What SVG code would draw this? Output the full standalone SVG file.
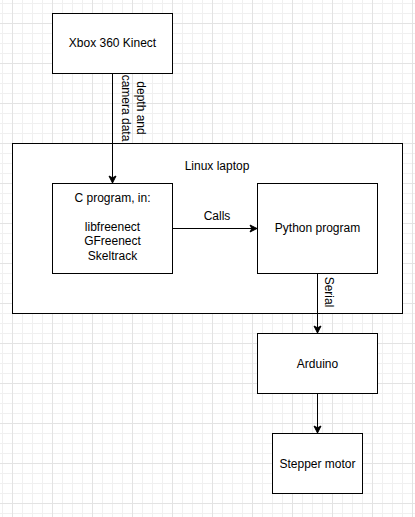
<svg xmlns="http://www.w3.org/2000/svg" width="415" height="517" viewBox="0 0 415 517">
<defs>
<pattern id="grid" x="12" y="23" width="40" height="40" patternUnits="userSpaceOnUse">
<path d="M10.5,0V40M20.5,0V40M30.5,0V40M0,10.5H40M0,20.5H40M0,30.5H40" stroke="#f0f0f0" stroke-width="1" fill="none"/>
<path d="M0.5,0V40M0,0.5H40" stroke="#e3e3e3" stroke-width="1" fill="none"/>
</pattern>
<marker id="arr" viewBox="0 0 10 10" refX="9" refY="5" markerWidth="10" markerHeight="10" markerUnits="userSpaceOnUse" orient="auto">
<path d="M2,1.5 L9,5 L2,8.5 L3.8,5 Z" fill="#000" stroke="#000" stroke-width="1"/>
</marker>
<style>
.box{fill:#fff;stroke:#000;stroke-width:1}
.t{font-family:"Liberation Sans",Arial,Helvetica,sans-serif;font-size:12px;fill:#000;text-anchor:middle}
.c{fill:none;stroke:#000;stroke-width:1}
</style>
</defs>
<rect width="415" height="517" fill="#fff"/>
<rect width="415" height="517" fill="url(#grid)"/>
<g id="laptop">
<rect class="box" x="12.5" y="143.5" width="390" height="170"/>
<text class="t" x="217" y="170">Linux laptop</text>
</g>
<g id="kinect">
<rect class="box" x="52.5" y="13.5" width="120" height="60"/>
<text class="t" x="112.5" y="47">Xbox 360 Kinect</text>
</g>
<g id="cprogram">
<rect class="box" x="52.5" y="183.5" width="120" height="90"/>
<text class="t" x="112.5" y="202">C program, in:</text>
<text class="t" x="112.5" y="230.8">libfreenect</text>
<text class="t" x="112.5" y="245.2">GFreenect</text>
<text class="t" x="112.5" y="259.6">Skeltrack</text>
</g>
<g id="python">
<rect class="box" x="257.5" y="183.5" width="120" height="90"/>
<text class="t" x="317.5" y="232">Python program</text>
</g>
<g id="arduino">
<rect class="box" x="257.5" y="333.5" width="120" height="60"/>
<text class="t" x="317.5" y="367.5">Arduino</text>
</g>
<g id="stepper">
<rect class="box" x="272.5" y="433.5" width="90" height="60"/>
<text class="t" x="317.5" y="467.5">Stepper motor</text>
</g>
<g id="connectors">
<path class="c" d="M112.5,73.5V183" marker-end="url(#arr)"/>
<text class="t" transform="translate(136.5,108) rotate(90)"><tspan x="0" y="0">depth and</tspan><tspan x="0" y="14.4">camera data</tspan></text>
<path class="c" d="M172.5,228.5H257" marker-end="url(#arr)"/>
<text class="t" x="217" y="220">Calls</text>
<path class="c" d="M317.5,273.5V333" marker-end="url(#arr)"/>
<text class="t" transform="translate(324.5,292) rotate(90)">Serial</text>
<path class="c" d="M317.5,393.5V433" marker-end="url(#arr)"/>
</g>
</svg>
